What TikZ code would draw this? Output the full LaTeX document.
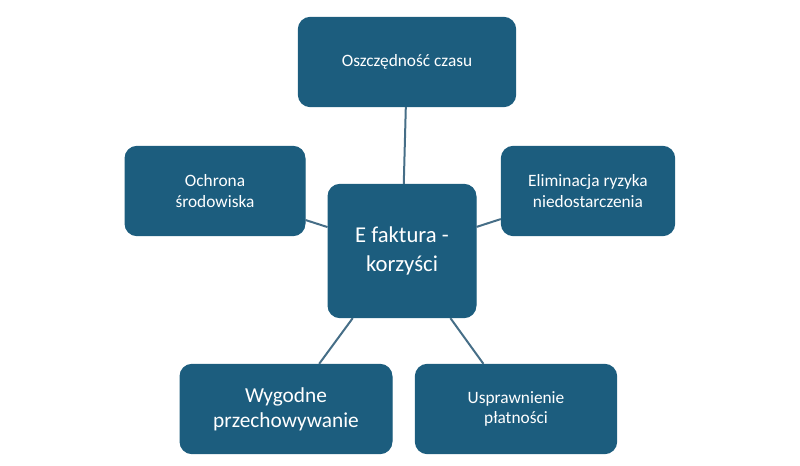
\documentclass[tikz,border=0pt]{standalone}
\usepackage{fontspec}
\setmainfont{Carlito}
\definecolor{boxblue}{RGB}{28,93,126}
\definecolor{linkgray}{RGB}{70,110,135}
\tikzset{every picture/.style={line width=0.75pt}}
\tikzset{benefit/.style={fill=boxblue,draw=boxblue,rounded corners=9pt,text=white,align=center,inner sep=2pt,font=\fontsize{13}{15.5}\selectfont},
link/.style={draw=linkgray,line width=1.5pt}}
\begin{document}
\begin{tikzpicture}[x=0.75pt,y=0.75pt,yscale=-1,xscale=1]
\useasboundingbox (0,0) rectangle (800,466);

% Text Node
\node[benefit,minimum width=111pt,minimum height=100pt,font=\fontsize{17}{22}\selectfont] (center) at (402,251) {E faktura -\\korzyści};
% Text Node
\node[benefit,minimum width=163pt,minimum height=67pt] (czas) at (407,62) {Oszczędność czasu};
% Text Node
\node[benefit,minimum width=135pt,minimum height=67pt] (srodowisko) at (215,191) {Ochrona\\środowiska};
% Text Node
\node[benefit,minimum width=130pt,minimum height=67pt] (ryzyko) at (588,191) {Eliminacja ryzyka\\niedostarczenia};
% Text Node
\node[benefit,minimum width=159pt,minimum height=67pt,font=\fontsize{16}{19}\selectfont] (przech) at (286,409) {Wygodne\\przechowywanie};
% Text Node
\node[benefit,minimum width=151pt,minimum height=67pt] (platnosci) at (516,409) {Usprawnienie\\płatności};

% Straight Lines
\draw[link] (center) -- (czas);
\draw[link] (center) -- (srodowisko);
\draw[link] (center) -- (ryzyko);
\draw[link] (center) -- (przech);
\draw[link] (center) -- (platnosci);

\end{tikzpicture}
\end{document}
